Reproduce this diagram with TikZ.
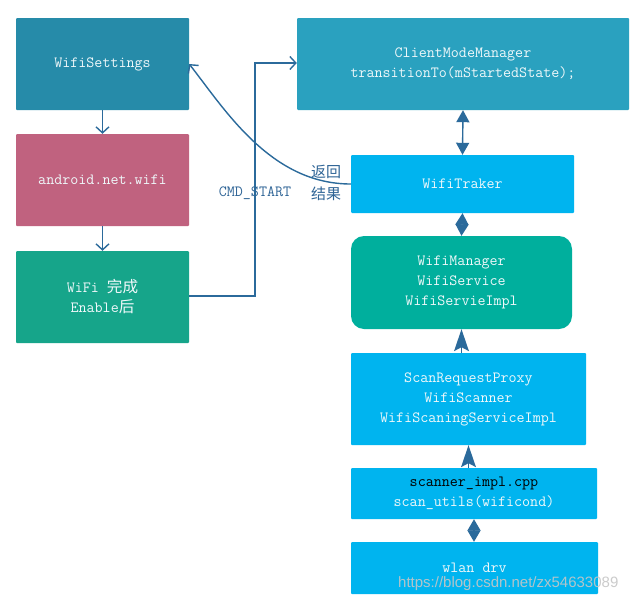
\documentclass[tikz,border=0pt]{standalone}
\usepackage{fontspec}
\setmainfont{Liberation Serif}
\newfontfamily\cjk{Noto Sans CJK SC}
\newfontfamily\wmfont{Liberation Sans}
\usetikzlibrary{arrows.meta}
\definecolor{cWS}{RGB}{38,139,169}
\definecolor{cAN}{RGB}{192,98,127}
\definecolor{cWE}{RGB}{22,165,138}
\definecolor{cCM}{RGB}{42,161,191}
\definecolor{cBL}{RGB}{0,180,239}
\definecolor{cWM}{RGB}{0,175,157}
\definecolor{cAR}{RGB}{43,106,155}
\definecolor{cTX}{RGB}{239,248,250}
\definecolor{cLB}{RGB}{46,100,150}
\begin{document}
\begin{tikzpicture}[x=1pt,y=-1pt,
  box/.style={draw=none, inner sep=0pt, align=center, text=cTX,
    font=\ttfamily\fontsize{15.6}{20}\selectfont, rounded corners=1pt},
  conn/.style={draw=cAR, line width=1.4pt},
  barb/.style={-{Straight Barb[length=6pt,width=13pt,line width=1.4pt]}},
  dbl/.style={{Triangle[length=12pt,width=13pt]}-{Triangle[length=12pt,width=13pt]}},
  dia/.style={{Triangle[length=11.5pt,width=13pt]}-{Triangle[length=11.5pt,width=13pt]}},
  glitch/.style={draw=cAR, line width=1.4pt, -{Stealth[length=22pt,width=15pt,inset=4pt,line width=0pt]}},
  lbl/.style={text=cLB, inner sep=0pt}
]
\useasboundingbox (0,0) rectangle (643,608);
\fill[white] (0,0) rectangle (643,608);

\node[box, fill=cWS, minimum width=173pt, minimum height=92pt] (ws) at (102.5,64) {WifiSettings};
\node[box, fill=cAN, minimum width=173pt, minimum height=92pt] (an) at (102.5,180) {android.net.wifi};
\node[box, fill=cWE, minimum width=173pt, minimum height=92pt] (we) at (102.5,297) {WiFi {\cjk 完成}\\Enable{\cjk 后}};

\node[box, fill=cCM, minimum width=332pt, minimum height=92pt] (cm) at (463,64) {ClientModeManager\\transitionTo(mStartedState);};
\node[box, fill=cBL, minimum width=223pt, minimum height=58pt] (wt) at (462.5,184) {WifiTraker};
\node[box, fill=cWM, minimum width=221pt, minimum height=93pt, rounded corners=13pt] (wm) at (461.5,282.5) {WifiManager\\WifiService\\WifiServieImpl};
\node[box, fill=cBL, minimum width=235pt, minimum height=92pt] (sr) at (468.5,399) {ScanRequestProxy\\WifiScanner\\WifiScaningServiceImpl};
\node[box, fill=cBL, minimum width=246pt, minimum height=51pt] (sc) at (474,493.5) {{\color{black}scanner\_impl.cpp}\\scan\_utils(wificond)};
\node[box, fill=cBL, minimum width=247pt, minimum height=52pt] (wl) at (474.5,568) {wlan drv};

% left column arrows
\draw[conn, barb] (ws.south) -- (an.north);
\draw[conn, barb] (an.south) -- (we.north);

% CMD_START
\node[lbl, font=\ttfamily\fontsize{15.6}{16}\selectfont] (cmd) at (255,193) {CMD\_START};
\coordinate (corner) at (255,63);
\draw[conn, barb] (we.east |- 0,296) -| (corner) -- (cm.west |- corner);

% return curve
\node[lbl, font=\cjk\fontsize{15}{22}\selectfont, align=center] (ret) at (326,183) {返回\\结果};
\draw[conn, barb] (wt.west) .. controls +(-80,0) and +(36,46) .. (ws.east);

% right column connectors
\draw[conn, dbl] (cm.south) -- (wt.north);
\draw[conn, dia] (wt.south) -- (wm.north);
\draw[glitch] (wm.south |- sr.north) -- (wm.south);
\draw[glitch] (sr.south |- sc.north) -- (sr.south);
\draw[conn, dia] (sc.south) -- (sc.south |- wl.north);

% watermark
\node[anchor=west, inner sep=0pt, text=gray!45, opacity=0.9, font=\wmfont\fontsize{15}{18}\selectfont] (wmk) at (398,584) {https://blog.csdn.net/zx54633089};
\end{tikzpicture}
\end{document}
